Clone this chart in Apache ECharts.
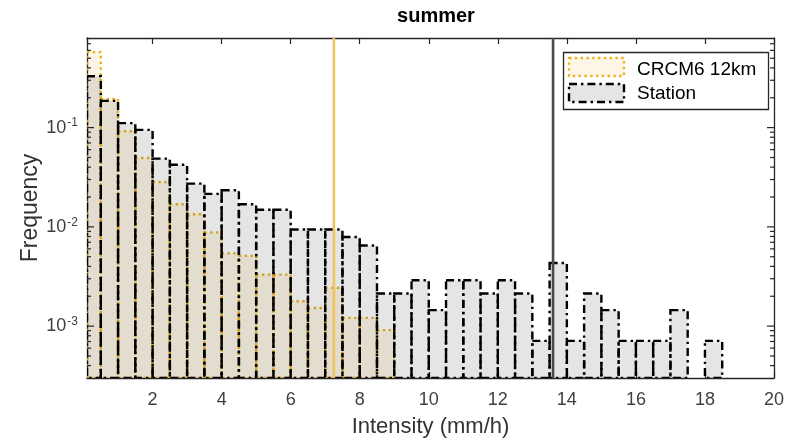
<!DOCTYPE html>
<html>
<head>
<meta charset="utf-8">
<script src="https://cdn.jsdelivr.net/npm/echarts@6/dist/echarts.min.js"></script>
<style>
html,body{margin:0;padding:0;background:#fff;}
#chart{width:787px;height:446px;}
</style>
</head>
<body>
<div id="chart"></div>
<script>
// ---- data ----
const binStart = [0, 0.5, 1.0, 1.5, 2.0, 2.5, 3.0, 3.5, 4.0, 4.5, 5.0, 5.5, 6.0, 6.5, 7.0, 7.5, 8.0, 8.5, 9.0,
                  9.5, 10.0, 10.5, 11.0, 11.5, 12.0, 12.5, 13.0, 13.5, 14.0, 14.5, 15.0, 15.5, 16.0, 16.5, 17.0, 17.5, 18.0];
const binWidth = 0.5;
const crcmFreq = [0.576, 0.195, 0.092, 0.0494, 0.0283, 0.0169, 0.0134, 0.0088, 0.0054, 0.0051, 0.0033, 0.0033, 0.00178, 0.00152, 0.00243, 0.00121, 0.00121, 0.00091, 0,
                  0, 0, 0, 0, 0, 0, 0, 0, 0, 0, 0, 0, 0, 0, 0, 0, 0, 0];
const stationFreq = [0.329, 0.186, 0.111, 0.095, 0.0487, 0.0422, 0.0273, 0.0215, 0.0234, 0.0169, 0.0149, 0.0149, 0.0094, 0.0094, 0.0094, 0.0079, 0.0065, 0.00213, 0.00213,
                     0.0029, 0.00145, 0.0029, 0.0029, 0.00213, 0.0029, 0.00213, 0.00071, 0.00433, 0.00071, 0.00213, 0.00145, 0.00071, 0.00071, 0.00071, 0.00145, 0, 0.00071];
const percentileX = [7.25, 13.6];          // vertical reference lines
const seriesNames = ['CRCM6 12km', 'Station'];
const xTicks = [2, 4, 6, 8, 10, 12, 14, 16, 18, 20];
const yMajorTicks = [1e-3, 1e-2, 1e-1];
const yMinorTicks = [4e-4, 5e-4, 6e-4, 7e-4, 8e-4, 9e-4,
                     2e-3, 3e-3, 4e-3, 5e-3, 6e-3, 7e-3, 8e-3, 9e-3,
                     2e-2, 3e-2, 4e-2, 5e-2, 6e-2, 7e-2, 8e-2, 9e-2,
                     2e-1, 3e-1, 4e-1, 5e-1, 6e-1, 7e-1];

const X_MIN = 0.1, X_MAX = 20, Y_MIN = 3e-4, Y_MAX = 0.8;
const AX = '#262626';
const YELLOW = '#EDB120';

function toBars(vals) {
  const out = [];
  for (let i = 0; i < binStart.length; i++) {
    if (vals[i] > 0) out.push([binStart[i], binStart[i] + binWidth, vals[i]]);
  }
  return out;
}

function barRenderer(fill, stroke, dash) {
  return function (params, api) {
    const cs = params.coordSys;
    const x0 = api.value(0), x1 = api.value(1), v = api.value(2);
    const p0 = api.coord([x0, v]);
    const p1 = api.coord([x1, v]);
    const left = Math.max(p0[0], cs.x);
    const right = Math.min(p1[0], cs.x + cs.width);
    const bottom = cs.y + cs.height;
    const top = Math.max(p0[1], cs.y);
    return {
      type: 'rect',
      shape: { x: left, y: top, width: right - left, height: bottom - top },
      style: { fill: fill, stroke: stroke, lineWidth: 2.4, lineDash: dash, lineCap: 'butt' }
    };
  };
}

const chart = echarts.init(document.getElementById('chart'), null, { renderer: 'canvas' });

const yLabelFmt = function (v) {
  const e = Math.round(Math.log10(v));
  if (Math.abs(Math.log10(v) - e) > 1e-6) return '';
  return '{b|10}{s|' + e + '}';
};

const option = {
  animation: false,
  backgroundColor: '#ffffff',
  title: {
    text: 'summer', left: 431, top: 1, textAlign: 'center',
    textStyle: { fontFamily: 'Liberation Sans', fontWeight: 'bold', fontSize: 20, color: '#000' }
  },
  grid: { left: 87, right: 12, top: 38, bottom: 68 },
  xAxis: [{
    type: 'value', min: X_MIN, max: X_MAX, splitNumber: 10, position: 'bottom',
    name: 'Intensity (mm/h)', nameLocation: 'middle', nameGap: 38, nameMoveOverlap: false,
    nameTextStyle: { fontFamily: 'Liberation Sans', fontSize: 22, color: '#333' },
    axisLine: { show: true, onZero: false, lineStyle: { color: AX, width: 1.3 } },
    axisTick: { show: true, inside: true, length: 6, lineStyle: { color: AX, width: 1.2 } },
    axisLabel: {
      show: true, margin: 13, fontFamily: 'Liberation Sans', fontSize: 18, color: '#404040',
      showMinLabel: false,
      formatter: function (v) { return xTicks.indexOf(Math.round(v * 1000) / 1000) >= 0 ? String(Math.round(v)) : ''; }
    },
    splitLine: { show: false }
  }, {
    type: 'value', min: X_MIN, max: X_MAX, splitNumber: 10, position: 'top',
    axisLine: { show: true, onZero: false, lineStyle: { color: AX, width: 1.3 } },
    axisTick: { show: true, inside: true, length: 6, lineStyle: { color: AX, width: 1.2 } },
    axisLabel: { show: false }, splitLine: { show: false }
  }],
  yAxis: [{
    type: 'log', logBase: 10, min: Y_MIN, max: Y_MAX, position: 'left',
    name: 'Frequency', nameLocation: 'middle', nameGap: 45, nameMoveOverlap: false,
    nameTextStyle: { fontFamily: 'Liberation Sans', fontSize: 23, color: '#333' },
    axisLine: { show: true, onZero: false, lineStyle: { color: AX, width: 1.3 } },
    axisTick: { show: false },
    axisLabel: {
      show: true, margin: 9, showMinLabel: false, showMaxLabel: false,
      formatter: yLabelFmt,
      rich: {
        b: { fontFamily: 'Liberation Sans', fontSize: 18, color: '#404040' },
        s: { fontFamily: 'Liberation Sans', fontSize: 12, color: '#404040', verticalAlign: 'bottom', padding: [0, 0, 9, 1] }
      }
    },
    splitLine: { show: false }
  }, {
    type: 'log', logBase: 10, min: Y_MIN, max: Y_MAX, position: 'right',
    axisLine: { show: true, onZero: false, lineStyle: { color: AX, width: 1.3 } },
    axisTick: { show: false }, axisLabel: { show: false }, splitLine: { show: false }
  }],
  series: [
    {
      name: seriesNames[0], type: 'custom', xAxisIndex: 0, yAxisIndex: 0, clip: true, z: 2,
      renderItem: barRenderer('rgba(237,177,32,0.11)', YELLOW, [2.4, 3.4]),
      encode: { x: [0, 1], y: 2 },
      data: toBars(crcmFreq)
    },
    {
      name: seriesNames[1], type: 'custom', xAxisIndex: 0, yAxisIndex: 0, clip: true, z: 3,
      renderItem: barRenderer('rgba(0,0,0,0.10)', '#000', [8, 4, 2.4, 4]),
      encode: { x: [0, 1], y: 2 },
      data: toBars(stationFreq)
    },
    {
      name: 'percentiles', type: 'custom', xAxisIndex: 0, yAxisIndex: 0, z: 4, silent: true,
      renderItem: function (params, api) {
        const cs = params.coordSys;
        const p = api.coord([api.value(0), Y_MAX]);
        const colors = ['#F1C35B', '#4a4a4a'];
        return {
          type: 'line',
          shape: { x1: p[0], y1: cs.y, x2: p[0], y2: cs.y + cs.height },
          style: { stroke: colors[params.dataIndex], lineWidth: 2.6 }
        };
      },
      encode: { x: 0 },
      data: percentileX.map(function (x) { return [x]; })
    },
    {
      name: 'yticks', type: 'custom', xAxisIndex: 0, yAxisIndex: 0, z: 5, silent: true,
      renderItem: function (params, api) {
        const cs = params.coordSys;
        const v = api.value(0), major = api.value(1) === 1;
        const y = api.coord([X_MIN, v])[1];
        const len = major ? 7 : 4;
        const st = { stroke: AX, lineWidth: 1.2 };
        return {
          type: 'group', children: [
            { type: 'line', shape: { x1: cs.x, y1: y, x2: cs.x + len, y2: y }, style: st },
            { type: 'line', shape: { x1: cs.x + cs.width, y1: y, x2: cs.x + cs.width - len, y2: y }, style: st }
          ]
        };
      },
      encode: { y: 0 },
      data: yMajorTicks.map(function (v) { return [v, 1]; }).concat(yMinorTicks.map(function (v) { return [v, 0]; }))
    }
  ],
  graphic: [
    { type: 'rect', z: 100, shape: { x: 563.5, y: 52.5, width: 205, height: 57 },
      style: { fill: '#fff', stroke: AX, lineWidth: 1.3 } },
    { type: 'rect', z: 101, shape: { x: 569, y: 58, width: 55, height: 18 },
      style: { fill: 'rgba(237,177,32,0.11)', stroke: YELLOW, lineWidth: 2.4, lineDash: [2.4, 3.4] } },
    { type: 'rect', z: 101, shape: { x: 569, y: 84, width: 55, height: 18 },
      style: { fill: 'rgba(0,0,0,0.10)', stroke: '#000', lineWidth: 2.4, lineDash: [8, 4, 2.4, 4] } },
    { type: 'text', z: 101, style: { x: 637, y: 70, text: seriesNames[0], fontFamily: 'Liberation Sans', fontSize: 19, fill: '#000', verticalAlign: 'middle' } },
    { type: 'text', z: 101, style: { x: 637, y: 94, text: seriesNames[1], fontFamily: 'Liberation Sans', fontSize: 19, fill: '#000', verticalAlign: 'middle' } }
  ]
};
chart.setOption(option);
</script>
</body>
</html>
